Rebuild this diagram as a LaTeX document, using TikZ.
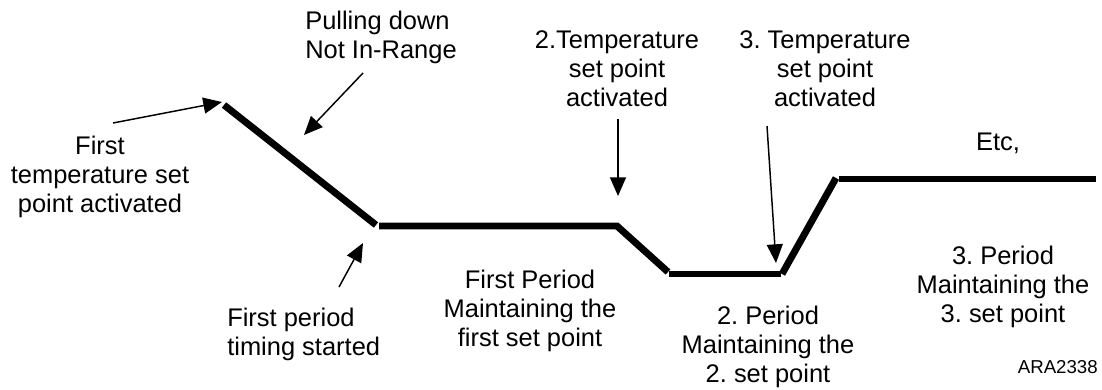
\documentclass[tikz,border=0pt]{standalone}
\usepackage{fontspec}
\setmainfont{Liberation Sans}
\usetikzlibrary{arrows.meta}
\frenchspacing
\begin{document}
\begin{tikzpicture}[x=0.75pt,y=-0.75pt,
  lbl/.style={inner sep=0pt, align=center, font=\fontsize{19.1}{21.8}\selectfont},
  lbll/.style={inner sep=0pt, align=left, anchor=west, font=\fontsize{19.1}{21.8}\selectfont},
  curve/.style={line width=5.2pt, line cap=butt},
  pointer/.style={line width=1.1pt, -{Triangle[length=14pt,width=12pt]}}]
\useasboundingbox (0,0) rectangle (1102,389);

% profile points
\coordinate (p1) at (224,105);
\coordinate (p2) at (376,225);
\coordinate (p3) at (379,226);
\coordinate (p4) at (617,226);
\coordinate (p5) at (668,272);
\coordinate (p6) at (669,274);
\coordinate (p7) at (781,274);
\coordinate (p8) at (782,274);
\coordinate (p9) at (836,178);
\coordinate (p10) at (839,179);
\coordinate (p11) at (1096,179);

\draw[curve] (p1) -- (p2);
\draw[curve] (p3) -- (p4) -- (p5);
\draw[curve] (p6) -- (p7);
\draw[curve] (p8) -- (p9);
\draw[curve] (p10) -- (p11);

% labels
\node[lbl] (first) at (100,177) {First\\temperature set\\point activated};
\node[lbll] (pull) at (305,37) {Pulling down\\Not In-Range};
\node[lbll] (timing) at (227,334) {First period\\timing started};
\node[lbl] (t2) at (617,69) {2.Temperature\\set point\\activated};
\node[lbl] (t3) at (825,69) {3. Temperature\\set point\\activated};
\node[lbl] (etc) at (998,143) {Etc,};
\node[lbl] (per1) at (530,311) {First Period\\Maintaining the\\first set point};
\node[lbl] (per2) at (768,347) {2. Period\\Maintaining the\\2. set point};
\node[lbl] (per3) at (1003,287) {3. Period\\Maintaining the\\3. set point};
\node[inner sep=0pt, anchor=east, font=\fontsize{14}{16}\selectfont] (ara) at (1098,367) {ARA2338};

% arrow endpoints
\coordinate (a1s) at (113,123);
\coordinate (a1e) at (222,102);
\coordinate (a2s) at (363,73);
\coordinate (a2e) at (304,135);
\coordinate (a3s) at (339,287);
\coordinate (a3e) at (363,243);
\coordinate (a4s) at (618,119);
\coordinate (a4e) at (618,196);
\coordinate (a5s) at (767,126);
\coordinate (a5e) at (776,263);

\draw[pointer] (a1s) -- (a1e);
\draw[pointer] (a2s) -- (a2e);
\draw[pointer] (a3s) -- (a3e);
\draw[pointer] (a4s) -- (a4e);
\draw[pointer] (a5s) -- (a5e);
\end{tikzpicture}
\end{document}
